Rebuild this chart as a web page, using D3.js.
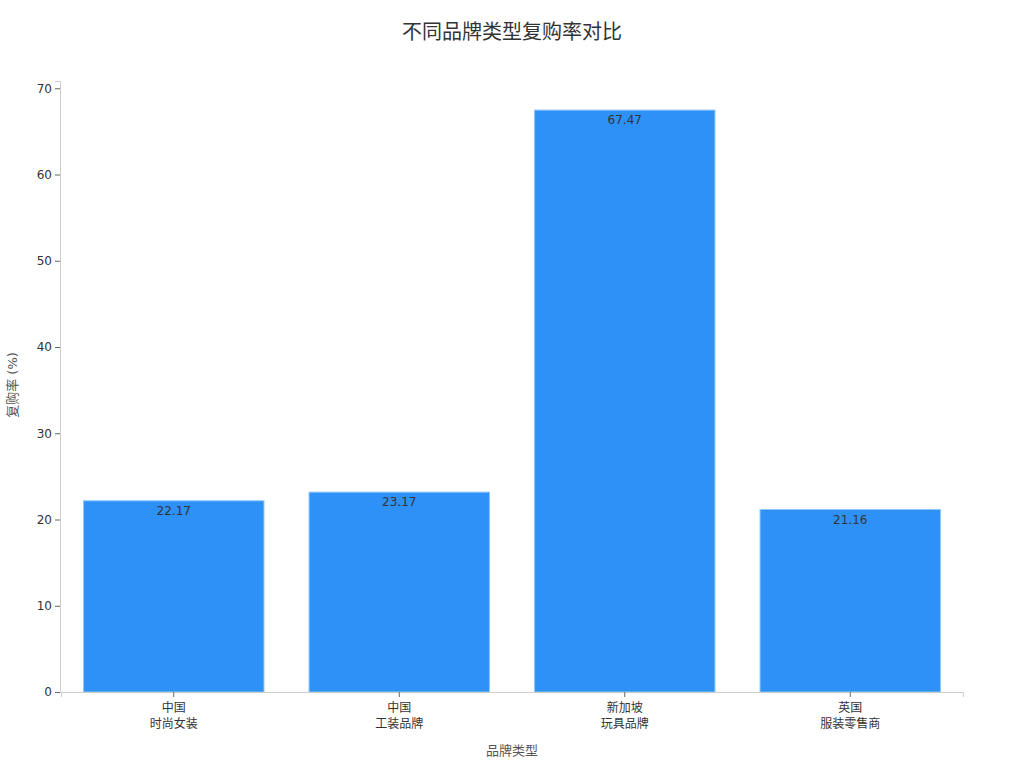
<!DOCTYPE html>
<html>
<head>
<meta charset="utf-8">
<script src="https://cdn.jsdelivr.net/npm/d3@7"></script>
<style>
body { margin: 0; background: #fff; }
svg, svg text { font-family: "DejaVu Sans", "Noto Sans CJK SC", sans-serif; }
</style>
</head>
<body>
<div id="chart"></div>
<script>
var brandLines = [["中国", "时尚女装"], ["中国", "工装品牌"], ["新加坡", "玩具品牌"], ["英国", "服装零售商"]];
var brandKeys = ["中国时尚女装", "中国工装品牌", "新加坡玩具品牌", "英国服装零售商"];
var rates = [22.17, 23.17, 67.47, 21.16];
var yTicks = [0, 10, 20, 30, 40, 50, 60, 70];

var width = 1024, height = 768;
var margin = {top: 81, right: 61, bottom: 76, left: 61};

var svg = d3.select("#chart").append("svg")
    .attr("width", width)
    .attr("height", height);

var x = d3.scaleBand()
    .domain(brandKeys)
    .range([margin.left, width - margin.right])
    .paddingInner(0.2)
    .paddingOuter(0.1);

var y = d3.scaleLinear()
    .domain([0, d3.max(rates) * 1.05])
    .range([height - margin.bottom, margin.top]);

// title
svg.append("text")
    .attr("x", width / 2)
    .attr("y", 39)
    .attr("text-anchor", "middle")
    .style("font-size", "20px")
    .style("fill", "#333")
    .text("不同品牌类型复购率对比");

// bars
svg.selectAll("rect.bar")
    .data(rates)
    .enter()
    .append("rect")
    .attr("class", "bar")
    .attr("x", function(d, i) { return x(brandKeys[i]); })
    .attr("y", function(d) { return y(d); })
    .attr("width", x.bandwidth())
    .attr("height", function(d) { return y(0) - y(d); })
    .attr("fill", "#2e91f8")
    .attr("stroke", "#8cc4fb")
    .attr("stroke-width", 1);

svg.selectAll("text.val")
    .data(rates)
    .enter()
    .append("text")
    .attr("class", "val")
    .attr("x", function(d, i) { return x(brandKeys[i]) + x.bandwidth() / 2; })
    .attr("y", function(d) { return y(d) + 14; })
    .attr("text-anchor", "middle")
    .style("font-size", "12px")
    .style("fill", "#333")
    .text(function(d) { return d.toFixed(2); });

// y axis
var yAxis = svg.append("g")
    .attr("transform", "translate(" + (margin.left - 1) + ",0)")
    .call(d3.axisLeft(y).tickValues(yTicks).tickSize(5).tickPadding(3));
yAxis.attr("font-family", null).attr("font-size", 12);
yAxis.select(".domain").attr("stroke", "#ccc");
yAxis.selectAll(".tick line").attr("stroke", "#666");
yAxis.selectAll(".tick text").attr("fill", "#333");

// x axis
var xAxis = svg.append("g")
    .attr("transform", "translate(0," + (height - margin.bottom) + ")")
    .call(d3.axisBottom(x).tickSize(5).tickFormat(""));
xAxis.attr("font-family", null);
xAxis.select(".domain").attr("stroke", "#ccc");
xAxis.selectAll(".tick line").attr("stroke", "#666");
xAxis.selectAll(".tick").each(function(d, i) {
    var t = d3.select(this).append("text")
        .attr("text-anchor", "middle")
        .style("fill", "#333")
        .style("font-size", "12px");
    brandLines[i].forEach(function(line, j) {
        t.append("tspan")
            .attr("x", 0)
            .attr("y", 20 + j * 16)
            .text(line);
    });
});

// axis titles
svg.append("text")
    .attr("x", (margin.left + width - margin.right) / 2)
    .attr("y", 755)
    .attr("text-anchor", "middle")
    .style("font-size", "13px")
    .style("fill", "#555")
    .text("品牌类型");

svg.append("text")
    .attr("transform", "translate(17," + 385 + ") rotate(-90)")
    .attr("text-anchor", "middle")
    .style("font-size", "13px")
    .style("fill", "#555")
    .text("复购率 (%)");
</script>
</body>
</html>
